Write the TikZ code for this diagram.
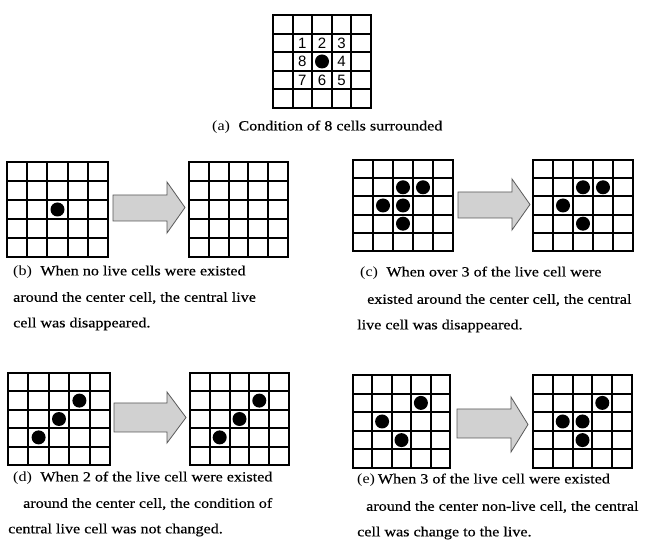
\documentclass[tikz,border=0pt]{standalone}
\usepackage{fontspec}
\setmainfont{Liberation Serif}
\newfontfamily\numfont{Liberation Sans}
\newfontfamily\capfont[FakeStretch=1.15,FakeBold=0.4]{Liberation Serif}
\newfontfamily\parfont[FakeStretch=1.15]{Liberation Serif}
\newcommand\lbl[1]{{\parfont(#1)}}
\newcommand\cellgrid[4]{%
  \foreach \i in {0,...,5}{%
    \draw[gridline] ({#1+\i*#3/5},#2) -- ({#1+\i*#3/5},{#2+#4});
    \draw[gridline] (#1,{#2+\i*#4/5}) -- ({#1+#3},{#2+\i*#4/5});
  }}
% x y w h then list of row/col
\newcommand\livecells[5]{%
  \foreach \r/\c in {#5}{%
    \fill[livedot] ({#1+(\c+0.5)*#3/5},{#2+(\r+0.5)*#4/5}) circle (7);
  }}
% x0 xh xt bodytop bodybottom headtop headbottom
\newcommand\bigarrow[7]{%
  \draw[fatarrow] (#1,#4) -- (#2,#4) -- (#2,#6) -- (#3,{(#6+#7)/2}) -- (#2,#7) -- (#2,#5) -- (#1,#5) -- cycle;}
\begin{document}
\begin{tikzpicture}[x=1pt,y=-1pt,
  gridline/.style={line width=2pt,line cap=rect},
  livedot/.style={black},
  fatarrow/.style={fill=black!18,draw=black!65,line width=0.8pt,line join=miter},
  captext/.style={font=\capfont\fontsize{14}{16}\selectfont,anchor=west,inner sep=0pt},
  num/.style={font=\numfont\fontsize{15}{17}\selectfont,inner sep=0pt}]
\useasboundingbox[fill=white] (0,0) rectangle (646,545);
% (a)
\cellgrid{273}{15}{98}{93}
\livecells{273}{15}{98}{93}{2/2}
\foreach \r/\c/\t [count=\k] in {1/1/1,1/2/2,1/3/3,2/3/4,3/3/5,3/2/6,3/1/7,2/1/8}{
  \node[num] (n\k) at ({273+(\c+0.5)*98/5},{15+(\r+0.5)*93/5}) {\t};}
\node[captext] (capa) at (212,127) {\lbl{a}\hspace{0.6em}Condition of 8 cells surrounded};
% (b)
\cellgrid{7}{162}{101}{95}
\livecells{7}{162}{101}{95}{2/2}
\bigarrow{113}{167}{185}{195}{221}{182}{233}
\cellgrid{189}{162}{99}{95}
\node[captext] (capb1) at (13,272) {\lbl{b}\hspace{0.6em}When no live cells were existed};
\node[captext] (capb2) at (13,298) {around the center cell, the central live};
\node[captext] (capb3) at (13,324) {cell was disappeared.};
% (c)
\cellgrid{353}{160}{100}{91}
\livecells{353}{160}{100}{91}{1/2,1/3,2/1,2/2,3/2}
\bigarrow{458}{512}{530}{192}{218}{179}{230}
\cellgrid{533}{160}{100}{91}
\livecells{533}{160}{100}{91}{1/2,1/3,2/1,3/2}
\node[captext] (capc1) at (360,273) {\lbl{c}\hspace{0.6em}When over 3 of the live cell were};
\node[captext] (capc2) at (367,300) {existed around the center cell, the central};
\node[captext] (capc3) at (357,326) {live cell was disappeared.};
% (d)
\cellgrid{8}{373}{102}{92}
\livecells{8}{373}{102}{92}{1/3,2/2,3/1}
\bigarrow{114}{167}{186}{403}{432}{392}{443}
\cellgrid{190}{373}{99}{92}
\livecells{190}{373}{99}{92}{1/3,2/2,3/1}
\node[captext] (capd1) at (13,478) {\lbl{d}\hspace{0.6em}When 2 of the live cell were existed};
\node[captext] (capd2) at (23,504) {around the center cell, the condition of};
\node[captext] (capd3) at (8,530) {central live cell was not changed.};
% (e)
\cellgrid{353}{375}{97}{93}
\livecells{353}{375}{97}{93}{1/3,2/1,3/2}
\bigarrow{457}{511}{528}{409}{438}{397}{452}
\cellgrid{533}{375}{99}{93}
\livecells{533}{375}{99}{93}{1/3,2/1,2/2,3/2}
\node[captext] (cape1) at (357,480) {\lbl{e}\hspace{0.2em}When 3 of the live cell were existed};
\node[captext] (cape2) at (366,507) {around the center non-live cell, the central};
\node[captext] (cape3) at (357,533) {cell was change to the live.};
\end{tikzpicture}
\end{document}
